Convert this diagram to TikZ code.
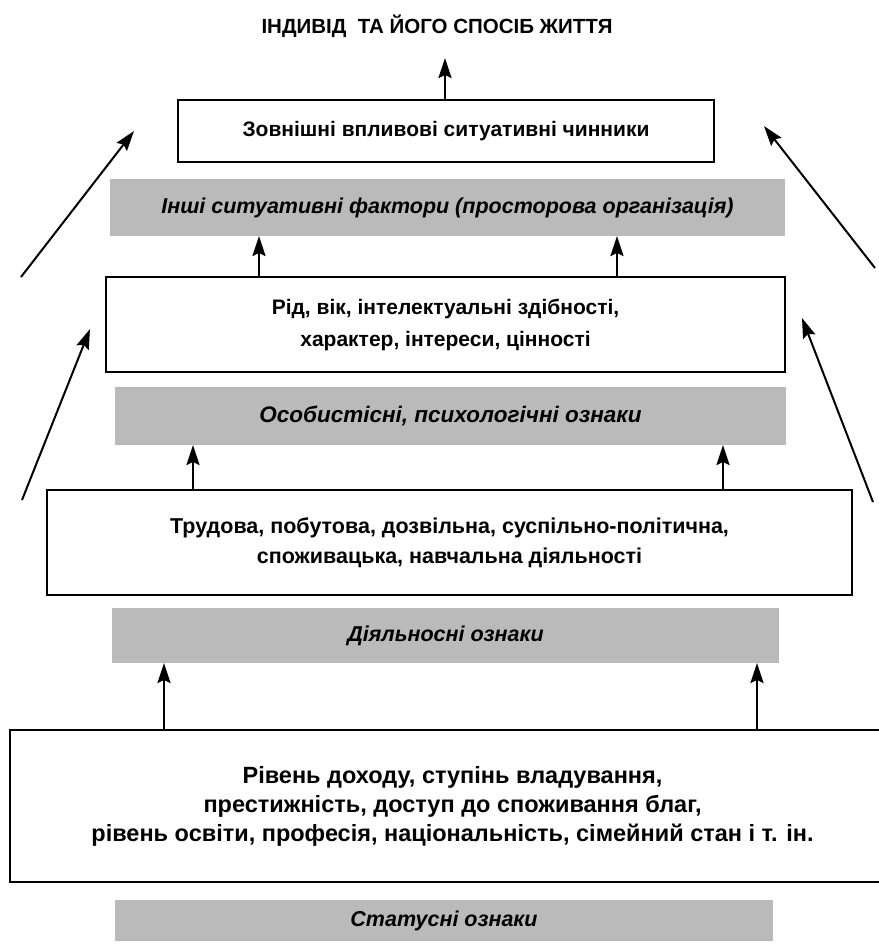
\documentclass[tikz,border=0pt]{standalone}
\usepackage{fontspec}
\setmainfont{Liberation Sans}
\usetikzlibrary{arrows.meta}
\begin{document}
\begin{tikzpicture}[x=1pt,y=-1pt,
  box/.style={draw=black, line width=2pt, fill=white, inner sep=0pt, outer sep=0pt, align=center,
    font=\fontsize{21}{32}\selectfont\bfseries},
  band/.style={fill=black!27, draw=none, inner sep=0pt, outer sep=0pt, align=center,
    font=\fontsize{21.5}{24}\selectfont\bfseries\itshape},
  arr/.style={line width=2.4pt, -{Stealth[length=20pt,width=13pt,inset=3pt]}},
  diag/.style={line width=2pt, -{Stealth[length=20pt,width=13pt,inset=3pt]}}
]
\useasboundingbox (0,0) rectangle (879,946);
\clip (0,0) rectangle (879,946);
\fill[white] (0,0) rectangle (879,946);

\node[font=\fontsize{20.5}{22}\selectfont\bfseries] (title) at (437,26) {ІНДИВІД\ \ ТА ЙОГО СПОСІБ ЖИТТЯ};

\node[box, minimum width=536pt, minimum height=62pt] (b1) at (446,131) {Зовнішні впливові ситуативні чинники};
\node[band, minimum width=675pt, minimum height=57pt] (s1) at (447.5,207.5) {Інші ситуативні фактори (просторова організація)};

\node[box, minimum width=679pt, minimum height=95pt] (b2) at (445.5,324.5) {Рід, вік, інтелектуальні здібності,\\характер, інтереси, цінності};
\node[band, minimum width=671pt, minimum height=58pt, font=\fontsize{22.5}{24}\selectfont\bfseries\itshape] (s2) at (450.5,416) {Особистісні, психологічні ознаки};

\node[box, minimum width=805pt, minimum height=105pt, font=\fontsize{21.5}{30}\selectfont\bfseries] (b3) at (449.5,542.5) {Трудова, побутова, дозвільна, суспільно-політична,\\споживацька, навчальна діяльності};
\node[band, minimum width=667pt, minimum height=55pt] (s3) at (445.5,635.5) {Діяльносні ознаки};

\node[box, minimum width=885pt, minimum height=152pt, font=\fontsize{23.5}{29}\selectfont\bfseries] (b4) at (452.5,806) {Рівень доходу, ступінь владування,\\престижність, доступ до споживання благ,\\рівень освіти, професія, національність, сімейний стан і т. ін.};
\node[band, minimum width=658pt, minimum height=41pt] (s4) at (444,920.5) {Статусні ознаки};

% vertical arrows
\coordinate (top) at (445,58);
\draw[arr] (b1.north -| top) -- (top);
\draw[arr] (b2.north -| 259,0) -- (s1.south -| 259,0);
\draw[arr] (b2.north -| 617,0) -- (s1.south -| 617,0);
\draw[arr] (b3.north -| 193,0) -- (s2.south -| 193,0);
\draw[arr] (b3.north -| 723,0) -- (s2.south -| 723,0);
\draw[arr] (b4.north -| 164,0) -- (s3.south -| 164,0);
\draw[arr] (b4.north -| 757,0) -- (s3.south -| 757,0);

% diagonal arrows
\coordinate (l1a) at (21,277);  \coordinate (l1b) at (134,131);
\coordinate (r1a) at (875,268); \coordinate (r1b) at (764,126);
\coordinate (l2a) at (22,500);  \coordinate (l2b) at (90,329);
\coordinate (r2a) at (873,502); \coordinate (r2b) at (802,318);
\draw[diag] (l1a) -- (l1b);
\draw[diag] (r1a) -- (r1b);
\draw[diag] (l2a) -- (l2b);
\draw[diag] (r2a) -- (r2b);
\end{tikzpicture}
\end{document}
